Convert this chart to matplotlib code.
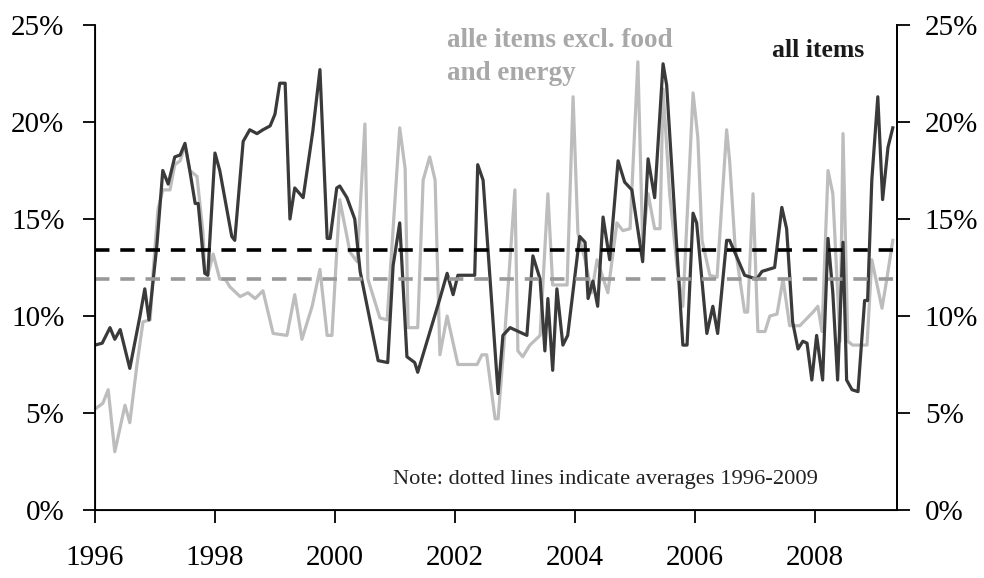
import matplotlib
matplotlib.use("Agg")
import matplotlib.pyplot as plt
from matplotlib.ticker import FixedLocator

plt.rcParams['font.family'] = ['Liberation Serif', 'DejaVu Serif']

# all items (dark line), decimal year / percent
all_t = [1996.00, 1996.12, 1996.25, 1996.33, 1996.42, 1996.58, 1996.75, 1996.83, 1996.90,
         1997.03, 1997.13, 1997.22, 1997.33, 1997.42, 1997.50, 1997.58, 1997.67, 1997.72,
         1997.83, 1997.88, 1998.00, 1998.08, 1998.28, 1998.33, 1998.47, 1998.58, 1998.70,
         1998.80, 1998.92, 1999.00, 1999.08, 1999.17, 1999.25, 1999.33, 1999.47, 1999.63,
         1999.75, 1999.87, 1999.92, 2000.03, 2000.08, 2000.20, 2000.33, 2000.42, 2000.72,
         2000.88, 2000.97, 2001.08, 2001.20, 2001.33, 2001.38, 2001.75, 2001.87, 2001.97,
         2002.05, 2002.33, 2002.38, 2002.47, 2002.72, 2002.80, 2002.92, 2003.20, 2003.30,
         2003.42, 2003.50, 2003.55, 2003.63, 2003.70, 2003.80, 2003.88, 2004.08, 2004.17,
         2004.22, 2004.30, 2004.38, 2004.47, 2004.58, 2004.72, 2004.83, 2004.95, 2005.13,
         2005.22, 2005.33, 2005.47, 2005.53, 2005.80, 2005.87, 2005.97, 2006.03, 2006.20,
         2006.30, 2006.38, 2006.53, 2006.58, 2006.83, 2007.03, 2007.12, 2007.33, 2007.45,
         2007.53, 2007.63, 2007.72, 2007.80, 2007.87, 2007.95, 2008.03, 2008.13, 2008.22,
         2008.30, 2008.38, 2008.47, 2008.53, 2008.62, 2008.72, 2008.83, 2008.88, 2008.95,
         2009.05, 2009.13, 2009.22, 2009.30]
all_v = [8.5, 8.6, 9.4, 8.8, 9.3, 7.3, 10.0, 11.4, 9.8,
         13.6, 17.5, 16.8, 18.2, 18.3, 18.9, 17.5, 15.8, 15.8,
         12.2, 12.1, 18.4, 17.5, 14.1, 13.9, 19.0, 19.6, 19.4,
         19.6, 19.8, 20.4, 22.0, 22.0, 15.0, 16.6, 16.1, 19.5,
         22.7, 14.0, 14.0, 16.6, 16.7, 16.1, 15.0, 12.3, 7.7,
         7.6, 12.6, 14.8, 7.9, 7.6, 7.1, 10.9, 12.2, 11.1,
         12.1, 12.1, 17.8, 17.0, 6.0, 9.0, 9.4, 9.0, 13.1,
         11.9, 8.2, 10.9, 7.2, 11.4, 8.5, 9.0, 14.1, 13.8,
         10.9, 11.8, 10.5, 15.1, 12.9, 18.0, 16.9, 16.5, 12.8,
         18.1, 16.1, 23.0, 21.9, 8.5, 8.5, 15.3, 14.8, 9.1,
         10.5, 9.1, 13.9, 13.9, 12.1, 11.9, 12.3, 12.5, 15.6,
         14.5, 9.7, 8.3, 8.7, 8.6, 6.7, 9.0, 6.7, 14.0,
         11.2, 6.7, 13.8, 6.7, 6.2, 6.1, 10.8, 10.8, 17.0,
         21.3, 16.0, 18.7, 19.7]

# all items excl. food and energy (light line)
core_t = [1996.00, 1996.13, 1996.22, 1996.33, 1996.50, 1996.58, 1996.70, 1996.80, 1996.92,
          1996.97, 1997.05, 1997.13, 1997.25, 1997.33, 1997.42, 1997.50, 1997.58, 1997.70,
          1997.80, 1997.83, 1997.88, 1997.97, 1998.08, 1998.17, 1998.25, 1998.42, 1998.55,
          1998.67, 1998.80, 1998.97, 1999.20, 1999.33, 1999.45, 1999.62, 1999.75, 1999.87,
          1999.95, 2000.08, 2000.25, 2000.37, 2000.50, 2000.55, 2000.75, 2000.87, 2001.08,
          2001.17, 2001.22, 2001.38, 2001.47, 2001.58, 2001.67, 2001.75, 2001.87, 2002.05,
          2002.37, 2002.45, 2002.53, 2002.67, 2002.72, 2002.83, 2003.00, 2003.05, 2003.13,
          2003.25, 2003.42, 2003.55, 2003.63, 2003.87, 2003.97, 2004.05, 2004.17, 2004.28,
          2004.37, 2004.55, 2004.70, 2004.80, 2004.92, 2005.05, 2005.13, 2005.22, 2005.33,
          2005.42, 2005.47, 2005.58, 2005.70, 2005.80, 2005.97, 2006.05, 2006.12, 2006.25,
          2006.37, 2006.53, 2006.58, 2006.67, 2006.83, 2006.88, 2006.97, 2007.05, 2007.17,
          2007.25, 2007.37, 2007.47, 2007.58, 2007.75, 2007.97, 2008.05, 2008.12, 2008.22,
          2008.30, 2008.42, 2008.47, 2008.55, 2008.63, 2008.87, 2008.95, 2009.12, 2009.20,
          2009.30]
core_v = [5.2, 5.5, 6.2, 3.0, 5.4, 4.5, 7.5, 9.7, 9.8,
          12.3, 15.5, 16.5, 16.5, 17.8, 18.0, 18.8, 17.5, 17.2,
          14.3, 12.3, 12.1, 13.2, 11.9, 11.9, 11.5, 11.0, 11.2,
          10.9, 11.3, 9.1, 9.0, 11.1, 8.8, 10.5, 12.4, 9.0,
          9.0, 16.0, 13.3, 12.8, 19.9, 11.9, 9.9, 9.8, 19.7,
          17.6, 9.4, 9.4, 17.0, 18.2, 17.0, 8.0, 10.0, 7.5,
          7.5, 8.0, 8.0, 4.7, 4.7, 9.0, 16.5, 8.2, 7.9,
          8.5, 9.0, 16.3, 11.6, 11.6, 21.3, 14.3, 12.9, 11.2,
          12.9, 11.2, 14.8, 14.4, 14.5, 23.1, 13.8, 16.3, 14.5,
          14.5, 21.7, 16.3, 12.6, 10.5, 21.5, 19.2, 13.9, 12.1,
          12.0, 19.6, 18.0, 13.6, 10.2, 10.2, 16.3, 9.2, 9.2,
          10.0, 10.1, 11.9, 9.5, 9.5, 10.2, 10.5, 9.2, 17.5,
          16.3, 8.7, 19.4, 8.7, 8.5, 8.5, 12.9, 10.4, 11.9,
          13.9]

avg_all = 13.4
avg_core = 11.9
x_ticks = [1996, 1998, 2000, 2002, 2004, 2006, 2008]
y_ticks = [0, 5, 10, 15, 20, 25]
y_labels = ['0%', '5%', '10%', '15%', '20%', '25%']

fig = plt.figure(figsize=(9.84, 5.78), dpi=100)
ax = fig.add_axes([95 / 984, 68 / 578, 802 / 984, 485 / 578])

ax.plot(core_t, core_v, color='#bdbdbd', lw=2.3, zorder=2)
ax.plot(all_t, all_v, color='#3a3a3a', lw=2.3, zorder=3)
ax.axhline(avg_all, color='black', lw=2.6, dashes=(4, 3), zorder=4)
ax.axhline(avg_core, color='#999999', lw=2.6, dashes=(4, 3), zorder=4)

ax.set_xlim(1996, 2009.37)
ax.set_ylim(0, 25)
ax.spines['top'].set_visible(False)
for s in ['left', 'right', 'bottom']:
    ax.spines[s].set_linewidth(1.3)

ax.xaxis.set_major_locator(FixedLocator(x_ticks))
ax.set_xticklabels([str(x) for x in x_ticks])
ax.set_yticks(y_ticks)
ax.set_yticklabels(y_labels)
ax.tick_params(axis='x', direction='out', length=9, width=1.3, pad=16, labelsize=21)
ax.tick_params(axis='y', direction='out', length=9, width=1.3, pad=13, labelsize=21)

ax2 = ax.twinx()
ax2.set_ylim(0, 25)
ax2.set_yticks(y_ticks)
ax2.set_yticklabels(y_labels)
ax2.spines['top'].set_visible(False)
ax2.spines['right'].set_linewidth(1.3)
ax2.tick_params(axis='y', direction='out', length=9, width=1.3, pad=11, labelsize=21)

ax.text(2001.87, 23.35, 'alle items excl. food\nand energy', color='#a8a8a8',
        fontsize=19.5, fontweight='bold', ha='left', va='center', linespacing=1.4)
ax.text(2007.28, 23.7, 'all items', color='#1a1a1a', fontsize=18.5,
        fontweight='bold', ha='left', va='center')
ax.text(2000.97, 1.55, 'Note: dotted lines indicate averages 1996-2009', color='#222222',
        fontsize=16.2, ha='left', va='center')

fig.savefig('out.png', dpi=100)
